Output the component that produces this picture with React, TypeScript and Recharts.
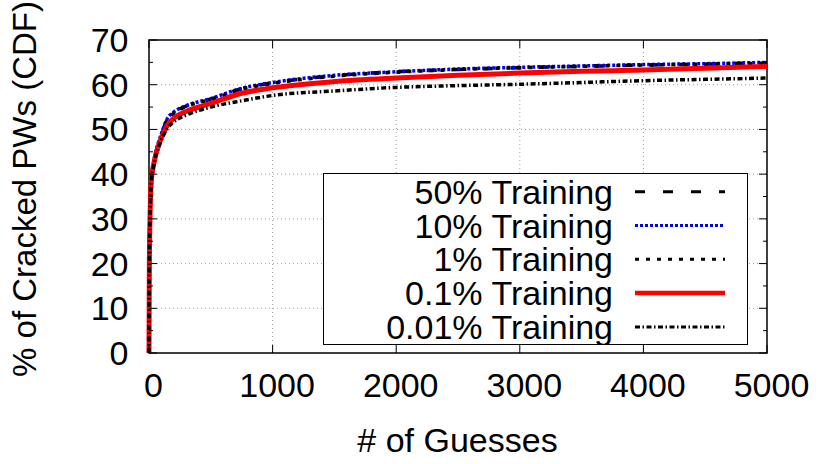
import { LineChart, Line, XAxis, YAxis, CartesianGrid, Legend, ReferenceArea } from 'recharts';

const guesses = [0, 3, 8, 20, 35, 50, 75, 100, 150, 200, 300, 500, 750, 1000, 1500, 2000, 2500, 3000, 3500, 4000, 4500, 5000];
const train50 = [0, 20, 30, 39, 42, 44.2, 46.8, 48.8, 52.4, 53.8, 55.2, 56.8, 59.1, 60.4, 62.0, 62.9, 63.4, 63.8, 64.1, 64.4, 64.6, 64.9];
const train10 = [0, 20, 30.2, 39.2, 42.2, 44.4, 47.0, 49.0, 52.5, 53.9, 55.3, 56.9, 59.2, 60.5, 62.1, 62.9, 63.5, 63.9, 64.2, 64.5, 64.7, 65.0];
const train1 = [0, 19.8, 29.8, 38.8, 41.8, 44.0, 46.6, 48.6, 52.2, 53.6, 55.1, 56.7, 59.0, 60.3, 61.9, 62.8, 63.4, 63.8, 64.1, 64.4, 64.6, 64.8];
const train01 = [0, 20, 30, 39, 41.8, 43.8, 46.2, 48.1, 51.0, 52.5, 54.0, 55.8, 58.1, 59.3, 60.7, 61.5, 62.1, 62.6, 63.0, 63.3, 63.7, 64.1];
const train001 = [0, 20, 30, 38.8, 41.5, 43.5, 45.8, 47.6, 50.3, 51.7, 53.2, 55.0, 56.4, 57.6, 58.6, 59.4, 59.8, 60.1, 60.5, 60.9, 61.2, 61.5];

const xTicks = [0, 1000, 2000, 3000, 4000, 5000];
const yTicks = [0, 5, 10, 15, 20, 25, 30, 35, 40, 45, 50, 55, 60, 65, 70];
const yGrid = [10, 20, 30, 40, 50, 60];
const xGrid = [1000, 2000, 3000, 4000];

const data = guesses.map((g, i) => ({
  g,
  t50: train50[i],
  t10: train10[i],
  t1: train1[i],
  t01: train01[i],
  t001: train001[i],
}));

const series = [
  { key: 't50', name: '50% Training', color: '#000000', dash: '10 18', width: 3.5, legendWidth: 3 },
  { key: 't10', name: '10% Training', color: '#0000ff', dash: '3 2', width: 3.5, legendWidth: 3 },
  { key: 't1', name: '1% Training', color: '#000000', dash: '4 7', width: 3.5, legendWidth: 3 },
  { key: 't01', name: '0.1% Training', color: '#ff0000', dash: undefined, width: 5, legendWidth: 4.5 },
  { key: 't001', name: '0.01% Training', color: '#000000', dash: '5 2.5 1.5 2.5', width: 3.5, legendWidth: 3 },
];

// plot box in page pixels
const L = 149, R = 767, T = 40, B = 353;
const FONT = '"Liberation Sans", Arial, sans-serif';

const XTick = (props: any) => {
  const { x, payload } = props;
  return (
    <g>
      <line x1={x} y1={B} x2={x} y2={B - 8} stroke="#000" strokeWidth={1} />
      <line x1={x} y1={T} x2={x} y2={T + 8} stroke="#000" strokeWidth={1} />
      <text x={x + 4.5} y={397} textAnchor="middle" fontSize={34} fontFamily={FONT} fill="#000">
        {payload.value}
      </text>
    </g>
  );
};

const YTick = (props: any) => {
  const { y, payload } = props;
  const major = payload.value % 10 === 0;
  const len = major ? 8 : 4;
  return (
    <g>
      <line x1={L} y1={y} x2={L + len} y2={y} stroke="#000" strokeWidth={1} />
      <line x1={R - len} y1={y} x2={R} y2={y} stroke="#000" strokeWidth={1} />
      {major && (
        <text x={128.5} y={y + 12} textAnchor="end" fontSize={34} fontFamily={FONT} fill="#000">
          {payload.value}
        </text>
      )}
    </g>
  );
};

const LegendBox = () => (
  <svg width={425} height={172} style={{ display: 'block' }}>
    <rect x={0.5} y={0.5} width={424} height={171} fill="#fff" stroke="#000" strokeWidth={1} />
    {series.map((s, i) => {
      const cy = 18.7 + i * 33.8;
      return (
        <g key={s.key}>
          <text x={290} y={cy + 12} textAnchor="end" fontSize={34} fontFamily={FONT} fill="#000">
            {s.name}
          </text>
          <line x1={312} y1={cy} x2={402} y2={cy} stroke={s.color} strokeWidth={s.legendWidth} strokeDasharray={s.dash} />
        </g>
      );
    })}
  </svg>
);

export default function App() {
  return (
    <div style={{ position: 'absolute', left: 0, top: 0, width: 830, height: 464, background: '#fff' }}>
      <LineChart width={830} height={464} data={data} margin={{ top: T, right: 830 - R, bottom: 0, left: 0 }}>
        <CartesianGrid
          stroke="#a0a0a0"
          strokeDasharray="1 3"
          horizontalValues={yGrid}
          verticalValues={xGrid}
        />
        <XAxis
          dataKey="g"
          type="number"
          domain={[0, 5000]}
          ticks={xTicks}
          interval={0}
          height={464 - B}
          tickLine={false}
          axisLine={false}
          tick={XTick}
        />
        <YAxis
          type="number"
          domain={[0, 70]}
          ticks={yTicks}
          interval={0}
          width={L}
          tickLine={false}
          axisLine={false}
          tick={YTick}
        />
        <ReferenceArea x1={0} x2={5000} y1={0} y2={70} fill="none" stroke="#000" strokeWidth={1.5} />
        {series.map((s) => (
          <Line
            key={s.key}
            dataKey={s.key}
            name={s.name}
            type="monotone"
            stroke={s.color}
            strokeWidth={s.width}
            strokeDasharray={s.dash}
            dot={false}
            isAnimationActive={false}
          />
        ))}
        <Legend
          layout="vertical"
          align="center"
          verticalAlign="middle"
          wrapperStyle={{ left: 323, top: 173, width: 425, height: 172 }}
          content={() => <LegendBox />}
        />
        <text x={457.5} y={452} textAnchor="middle" fontSize={34} fontFamily={FONT} fill="#000">
          # of Guesses
        </text>
        <text
          x={36}
          y={189}
          textAnchor="middle"
          fontSize={33}
          fontFamily={FONT}
          fill="#000"
          transform="rotate(-90, 36, 189)"
        >
          % of Cracked PWs (CDF)
        </text>
      </LineChart>
    </div>
  );
}
